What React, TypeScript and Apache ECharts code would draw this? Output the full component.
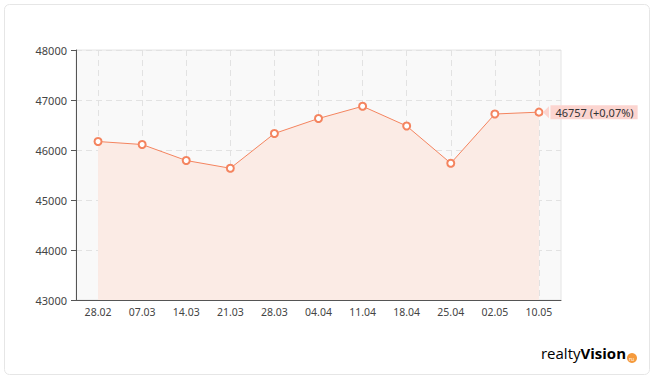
import React, { useEffect, useRef } from "react";
import * as echarts from "echarts";

const categories = ["28.02", "07.03", "14.03", "21.03", "28.03", "04.04", "11.04", "18.04", "25.04", "02.05", "10.05"];
const prices = [46170, 46110, 45790, 45635, 46330, 46630, 46875, 46480, 45735, 46720, 46757];
const lastLabel = "46757 (+0,07%)";
const yMin = 43000;
const yMax = 48000;
const yStep = 1000;

export default function App() {
  const ref = useRef<HTMLDivElement>(null);
  useEffect(() => {
    document.body.style.margin = "0";
    const chart = echarts.init(ref.current!, null, { renderer: "svg" });
    const lastIdx = prices.length - 1;
    chart.setOption({
      animation: false,
      backgroundColor: "#ffffff",
      textStyle: { fontFamily: "Noto Sans" },
      grid: {
        left: 76,
        right: 89,
        top: 50,
        bottom: 75,
        show: true,
        backgroundColor: "#f9f9f9",
        borderColor: "#e4e4e4",
        borderWidth: 1,
      },
      xAxis: {
        type: "category",
        data: categories,
        boundaryGap: true,
        axisLine: { lineStyle: { color: "#555555", width: 1 } },
        axisTick: { alignWithLabel: true, length: 5, lineStyle: { color: "#555555" } },
        axisLabel: { color: "#444444", fontSize: 10.5, margin: 6, fontFamily: "Noto Sans" },
        splitLine: {
          show: true,
          alignWithLabel: true,
          lineStyle: { color: "#e2e2e2", type: [6, 4], width: 1 },
        },
      },
      yAxis: {
        type: "value",
        min: yMin,
        max: yMax,
        interval: yStep,
        axisLine: { show: true, lineStyle: { color: "#555555", width: 1 } },
        axisTick: { show: true, length: 5, lineStyle: { color: "#555555" } },
        axisLabel: {
          color: "#444444",
          fontSize: 11,
          margin: 9,
          fontFamily: "Noto Sans",
          formatter: (v: number) => String(v),
        },
        splitLine: { show: true, lineStyle: { color: "#e2e2e2", type: [6, 4], width: 1 } },
      },
      series: [
        {
          type: "line",
          data: prices.map((v, i) =>
            i === lastIdx
              ? {
                  value: v,
                  label: {
                    show: true,
                    position: "right",
                    distance: 7,
                    formatter: lastLabel,
                    color: "#333333",
                    fontSize: 11,
                    fontFamily: "Noto Sans",
                    backgroundColor: "#fcd5d0",
                    padding: [2, 4, 1, 5],
                  },
                }
              : v
          ),
          symbol: "emptyCircle",
          symbolSize: 7,
          showAllSymbol: true,
          lineStyle: { color: "#f4845f", width: 1 },
          itemStyle: { color: "#f4845f", borderColor: "#f4845f", borderWidth: 1 },
          areaStyle: { color: "#fbebe5", opacity: 1 },
          z: 3,
          markPoint: {
            silent: true,
            symbol: "triangle",
            symbolSize: [12, 6],
            symbolRotate: 90,
            symbolOffset: [7, 0],
            itemStyle: { color: "#fcd5d0" },
            label: { show: false },
            data: [{ coord: [categories[lastIdx], prices[lastIdx]] }],
          },
        },
      ],
      graphic: [
        {
          type: "rect",
          left: 2,
          top: 2,
          shape: { width: 645, height: 370, r: 5 },
          style: { fill: "none", stroke: "#e6e6e6", lineWidth: 1 },
          silent: true,
          z: -10,
        },
        {
          type: "text",
          right: 24,
          top: 345,
          style: {
            text: "{a|realty}{b|Vision}",
            rich: {
              a: { fontSize: 15, fontFamily: "Open Sans", color: "#222222" },
              b: { fontSize: 15, fontFamily: "Open Sans", fontWeight: "bold", color: "#222222" },
            },
          },
        },
        {
          type: "circle",
          left: 627,
          top: 353,
          shape: { r: 5 },
          style: { fill: "#f59a3c" },
        },
        {
          type: "text",
          left: 629,
          top: 356,
          style: { text: "ru", fontSize: 5, fill: "#ffffff", fontFamily: "Noto Sans" },
        },
      ],
    });
    return () => chart.dispose();
  }, []);
  return <div ref={ref} style={{ width: 650, height: 375 }} />;
}
